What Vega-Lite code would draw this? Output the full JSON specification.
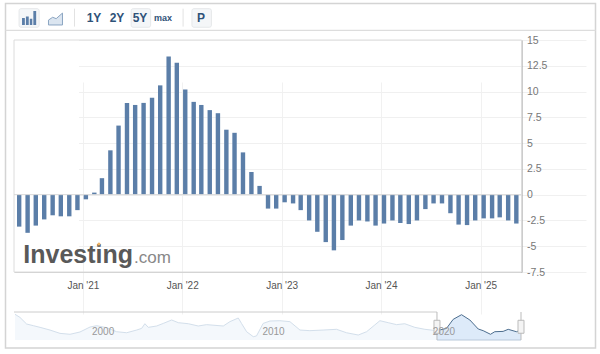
{
"$schema":"https://vega.github.io/schema/vega-lite/v6.json",
"width":600,"height":354,"padding":0,"autosize":{"type":"none"},"background":"white",
"config":{"view":{"stroke":null},"font":"Liberation Sans"},
"data":{"values":[{}]},
"datasets":{
"bars":[
{"date":"2020-05-12","v":-3.1},{"date":"2020-06-12","v":-3.7},{"date":"2020-07-12","v":-3.0},{"date":"2020-08-12","v":-2.4},{"date":"2020-09-12","v":-2.0},{"date":"2020-10-12","v":-2.1},{"date":"2020-11-12","v":-2.1},{"date":"2020-12-12","v":-1.5},
{"date":"2021-01-12","v":-0.45},{"date":"2021-02-12","v":0.2},{"date":"2021-03-12","v":1.6},{"date":"2021-04-12","v":4.3},{"date":"2021-05-12","v":6.7},{"date":"2021-06-12","v":8.9},{"date":"2021-07-12","v":8.7},{"date":"2021-08-12","v":8.9},{"date":"2021-09-12","v":9.4},{"date":"2021-10-12","v":10.6},{"date":"2021-11-12","v":13.4},{"date":"2021-12-12","v":12.8},
{"date":"2022-01-12","v":10.2},{"date":"2022-02-12","v":9.0},{"date":"2022-03-12","v":8.7},{"date":"2022-04-12","v":8.2},{"date":"2022-05-12","v":7.9},{"date":"2022-06-12","v":6.3},{"date":"2022-07-12","v":6.0},{"date":"2022-08-12","v":4.1},{"date":"2022-09-12","v":2.2},{"date":"2022-10-12","v":0.85},{"date":"2022-11-12","v":-1.35},{"date":"2022-12-12","v":-1.35},
{"date":"2023-01-12","v":-0.74},{"date":"2023-02-12","v":-0.85},{"date":"2023-03-12","v":-1.5},{"date":"2023-04-12","v":-2.5},{"date":"2023-05-12","v":-3.6},{"date":"2023-06-12","v":-4.6},{"date":"2023-07-12","v":-5.4},{"date":"2023-08-12","v":-4.4},{"date":"2023-09-12","v":-3.0},{"date":"2023-10-12","v":-2.5},{"date":"2023-11-12","v":-2.6},{"date":"2023-12-12","v":-3.0},
{"date":"2024-01-12","v":-2.8},{"date":"2024-02-12","v":-2.5},{"date":"2024-03-12","v":-2.75},{"date":"2024-04-12","v":-2.85},{"date":"2024-05-12","v":-2.5},{"date":"2024-06-12","v":-1.4},{"date":"2024-07-12","v":-0.85},{"date":"2024-08-12","v":-0.85},{"date":"2024-09-12","v":-1.8},{"date":"2024-10-12","v":-2.9},{"date":"2024-11-12","v":-2.95},{"date":"2024-12-12","v":-2.5},
{"date":"2025-01-12","v":-2.3},{"date":"2025-02-12","v":-2.3},{"date":"2025-03-12","v":-2.2},{"date":"2025-04-12","v":-2.5},{"date":"2025-05-12","v":-2.8}],
"history":[
{"year":1995.66,"v":13.8},{"year":1995.95,"v":10.8},{"year":1996.34,"v":4.4},{"year":1996.74,"v":2.8},{"year":1997.13,"v":1.2},{"year":1997.71,"v":-1.4},{"year":1998.3,"v":-4.6},{"year":1998.89,"v":-5.5},{"year":1999.47,"v":-3.3},{"year":2000.06,"v":1.5},{"year":2000.45,"v":2.8},{"year":2001.04,"v":0.9},{"year":2001.62,"v":-3},{"year":2002.21,"v":-4},{"year":2002.8,"v":-1.4},{"year":2003.09,"v":0.2},{"year":2003.28,"v":4.7},{"year":2003.48,"v":1.2},{"year":2003.97,"v":2.5},{"year":2004.36,"v":5},{"year":2004.85,"v":8.3},{"year":2005.24,"v":5.7},{"year":2005.83,"v":4.7},{"year":2006.41,"v":2.5},{"year":2006.9,"v":3.8},{"year":2007.88,"v":2.5},{"year":2008.27,"v":6.7},{"year":2008.76,"v":10.2},{"year":2008.95,"v":5},{"year":2009.25,"v":-3},{"year":2009.64,"v":-7.8},{"year":2009.83,"v":-7.1},{"year":2010.22,"v":5},{"year":2010.62,"v":7.3},{"year":2011.2,"v":7.6},{"year":2011.79,"v":6.7},{"year":2012.38,"v":-1.4},{"year":2012.96,"v":-2},{"year":2013.74,"v":-1.4},{"year":2014.53,"v":-0.7},{"year":2015.11,"v":-4},{"year":2015.8,"v":-6.2},{"year":2016.29,"v":-3},{"year":2016.77,"v":3.5},{"year":2017.07,"v":7.6},{"year":2017.56,"v":5.7},{"year":2018.05,"v":3.8},{"year":2018.53,"v":4.7},{"year":2019.12,"v":1.2},{"year":2019.71,"v":-0.7},{"year":2020.42,"v":-2}],
"selected":[
{"year":2020.42,"v":-2},{"year":2020.98,"v":0.2},{"year":2021.37,"v":8.9},{"year":2021.86,"v":13.4},{"year":2022.35,"v":8.3},{"year":2022.84,"v":-0.4},{"year":2023.13,"v":-2},{"year":2023.56,"v":-5.5},{"year":2023.81,"v":-3},{"year":2024.3,"v":-2.7},{"year":2024.6,"v":-0.7},{"year":2025.08,"v":-3},{"year":2025.35,"v":-1.4}],
"toolbar":[{"label":"1Y"},{"label":"2Y"},{"label":"5Y"},{"label":"max"},{"label":"P"}]
},
"resolve":{"scale":{"x":"independent","y":"independent"},"axis":{"x":"independent","y":"independent"}},
"layer":[
{
"layer":[
{"mark":{"type":"rect","fill":null,"stroke":"#d4d4d4","strokeWidth":1.5},
 "encoding":{"x":{"datum":0,"type":"quantitative","scale":{"domain":[0,100],"range":[5.5,595.5],"zero":false,"nice":false,"padding":0},"axis":null},"x2":{"datum":100},
 "y":{"datum":0,"type":"quantitative","scale":{"domain":[0,100],"range":[3.5,348],"zero":false,"nice":false},"axis":null},"y2":{"datum":100}}},
{"mark":{"type":"rule","stroke":"#dddddd","strokeWidth":1.2},
 "encoding":{"x":{"datum":0,"type":"quantitative"},"x2":{"datum":100},"y":{"datum":7.8,"type":"quantitative"}}},
{"mark":{"type":"rule","stroke":"#e2e2e2","strokeWidth":1},
 "encoding":{"x":{"datum":11.7,"type":"quantitative"},"y":{"datum":1.5,"type":"quantitative"},"y2":{"datum":6.7}}},
{"mark":{"type":"rule","stroke":"#e2e2e2","strokeWidth":1},
 "encoding":{"x":{"datum":30.1,"type":"quantitative"},"y":{"datum":1.5,"type":"quantitative"},"y2":{"datum":6.7}}},
{"mark":{"type":"rect","fill":"#f4f6f8","stroke":"#e6e8ea","cornerRadius":2},
 "encoding":{"x":{"datum":2.3,"type":"quantitative"},"x2":{"datum":5.7},"y":{"datum":1.5,"type":"quantitative"},"y2":{"datum":6.9}}},
{"mark":{"type":"rect","fill":"#f4f6f8","stroke":"#e6e8ea","cornerRadius":2},
 "encoding":{"x":{"datum":21.3,"type":"quantitative"},"x2":{"datum":24.6},"y":{"datum":1.5,"type":"quantitative"},"y2":{"datum":6.9}}},
{"mark":{"type":"rect","fill":"#f4f6f8","stroke":"#e6e8ea","cornerRadius":2},
 "encoding":{"x":{"datum":31.6,"type":"quantitative"},"x2":{"datum":34.9},"y":{"datum":1.5,"type":"quantitative"},"y2":{"datum":6.9}}},
{"mark":{"type":"point","filled":true,"fill":"#5b7ea8","opacity":1,"size":200,"shape":"M-1,1V0H-.6V1ZM-.45,1V-.2H-.05V1ZM.1,1V.1H.45V1ZM.6,1V-1H1V1Z"},
 "encoding":{"x":{"datum":4,"type":"quantitative"},"y":{"datum":4.2,"type":"quantitative"}}},
{"mark":{"type":"point","filled":true,"fill":"#dbe5f0","stroke":"#8ba5c2","strokeWidth":1,"opacity":1,"size":196,"shape":"M-1,1V.3L-.4,-.1L.1,.1L1,-.7V1Z"},
 "encoding":{"x":{"datum":8.47,"type":"quantitative"},"y":{"datum":4.2,"type":"quantitative"}}}
]},
{
"data":{"name":"toolbar"},
"layer":[
{"transform":[{"filter":"datum.label!=='P'&&datum.label!=='max'"}],
 "mark":{"type":"text","fontSize":12,"fontWeight":"bold","color":"#2f5278"},
 "encoding":{"x":{"field":"label","type":"nominal","scale":{"type":"point","domain":["1Y","2Y","5Y","max","gap","P"],"range":[94,209],"padding":0},"axis":null},
 "y":{"datum":"row","type":"nominal","scale":{"type":"point","domain":["row"],"range":[18,18]},"axis":null},"text":{"field":"label"}}},
{"transform":[{"filter":"datum.label==='max'"}],
 "mark":{"type":"text","fontSize":9,"fontWeight":"bold","color":"#2f5278"},
 "encoding":{"x":{"field":"label","type":"nominal"},"y":{"datum":"row","type":"nominal"},"text":{"field":"label"}}},
{"transform":[{"filter":"datum.label==='P'"}],
 "mark":{"type":"text","fontSize":12,"fontWeight":"bold","color":"#2f5278","dx":-8},
 "encoding":{"x":{"field":"label","type":"nominal"},"y":{"datum":"row","type":"nominal"},"text":{"field":"label"}}}
]},
{
"layer":[
{"mark":{"type":"rect","fill":null,"stroke":"#dcdcdc","strokeWidth":1},
 "encoding":{"x":{"datum":{"year":2020,"month":4,"date":23},"type":"temporal","scale":{"domain":[{"year":2020,"month":4,"date":23},{"year":2025,"month":5,"date":31}],"range":[14,521.5],"padding":0},"axis":{"orient":"bottom","offset":-82,"values":[{"year":2021,"month":1,"date":1},{"year":2022,"month":1,"date":1},{"year":2023,"month":1,"date":1},{"year":2024,"month":1,"date":1},{"year":2025,"month":1,"date":1}],"labelExpr":"timeFormat(datum.value,\"%b '%y\")","title":null,"grid":true,"gridColor":"#f1f1f1","domain":true,"domainColor":"#cccccc","ticks":false,"labelPadding":8,"labelFontSize":10,"labelColor":"#555555","labelFont":"Liberation Sans"}},"x2":{"datum":{"year":2025,"month":5,"date":31}},
 "y":{"datum":15,"type":"quantitative","scale":{"domain":[-7.5,15],"range":[272,40],"zero":false,"nice":false},"axis":{"orient":"right","offset":-78.5,"values":[-7.5,-5,-2.5,0,2.5,5,7.5,10,12.5,15],"tickCount":20,"labelExpr":"''+datum.value","labelOverlap":false,"labelBound":false,"labelFlush":false,"title":null,"grid":true,"gridColor":"#f0f0f0","domain":true,"domainColor":"#999999","ticks":false,"labelPadding":5,"labelFontSize":10.5,"labelColor":"#777777","labelFont":"Liberation Sans"}},"y2":{"datum":-7.5}}},
{"data":{"name":"bars"},
 "mark":{"type":"bar","color":"#5b7ea8","size":4.4},
 "encoding":{"x":{"field":"date","type":"temporal"},
 "y":{"field":"v","type":"quantitative"}}},
{"mark":{"type":"rule","stroke":"#d8d8d8","strokeWidth":1},
 "encoding":{"x":{"datum":{"year":2020,"month":4,"date":23},"type":"temporal"},"x2":{"datum":{"year":2025,"month":5,"date":31}},"y":{"datum":0,"type":"quantitative"}}},
{"mark":{"type":"text","text":"Investing","align":"left","baseline":"alphabetic","fontSize":25,"fontWeight":"bold","color":"#595959"},
 "encoding":{"x":{"datum":{"year":2020,"month":5,"date":27},"type":"temporal"},"y":{"datum":-6.62,"type":"quantitative"}}},
{"mark":{"type":"text","text":".com","align":"left","baseline":"alphabetic","fontSize":17,"color":"#888888"},
 "encoding":{"x":{"datum":{"year":2021,"month":7,"date":8},"type":"temporal"},"y":{"datum":-6.62,"type":"quantitative"}}},
{"mark":{"type":"point","filled":true,"fill":"#eeb566","opacity":1,"size":9},
 "encoding":{"x":{"datum":{"year":2021,"month":3,"date":1},"type":"temporal"},"y":{"datum":-4.78,"type":"quantitative"}}}
]},
{
"layer":[
{"data":{"name":"history"},"mark":{"type":"area","color":"#f0f5fb","line":{"stroke":"#d3dfeb","strokeWidth":1}},
 "encoding":{"x":{"field":"year","type":"quantitative","scale":{"domain":[1995.6,2025.35],"range":[14,521],"zero":false,"nice":false,"padding":0},"axis":null},
 "y":{"field":"v","type":"quantitative","scale":{"domain":[-11,16],"range":[340,312],"zero":false,"nice":false},"axis":null},"y2":{"datum":-11}}},
{"data":{"name":"selected"},"mark":{"type":"area","color":"#cfe1f6","line":{"stroke":"#4c6d8e","strokeWidth":1}},
 "encoding":{"x":{"field":"year","type":"quantitative"},"y":{"field":"v","type":"quantitative"},"y2":{"datum":-11}}},
{"mark":{"type":"rule","stroke":"#cccccc","strokeWidth":1},
 "encoding":{"x":{"datum":1995.6,"type":"quantitative"},"x2":{"datum":2020.42},"y":{"datum":16,"type":"quantitative"}}},
{"mark":{"type":"rule","stroke":"#b9c9da","strokeWidth":1},
 "encoding":{"x":{"datum":2020.42,"type":"quantitative"},"x2":{"datum":2025.35},"y":{"datum":-11,"type":"quantitative"}}},
{"mark":{"type":"rule","stroke":"#bbbbbb","strokeWidth":1},
 "encoding":{"x":{"datum":2020.42,"type":"quantitative"},"y":{"datum":16,"type":"quantitative"},"y2":{"datum":-11}}},
{"mark":{"type":"rule","stroke":"#bbbbbb","strokeWidth":1},
 "encoding":{"x":{"datum":2025.35,"type":"quantitative"},"y":{"datum":16,"type":"quantitative"},"y2":{"datum":-11}}},
{"mark":{"type":"bar","fill":"#f4f4f4","stroke":"#bbbbbb","size":6},
 "encoding":{"x":{"datum":2020.42,"type":"quantitative"},"y":{"datum":8,"type":"quantitative"},"y2":{"datum":-4.5}}},
{"mark":{"type":"bar","fill":"#f4f4f4","stroke":"#bbbbbb","size":6},
 "encoding":{"x":{"datum":2025.35,"type":"quantitative"},"y":{"datum":8,"type":"quantitative"},"y2":{"datum":-4.5}}},
{"data":{"values":[{"year":2000,"label":"2000"},{"year":2010,"label":"2010"},{"year":2020,"label":"2020"}]},
 "mark":{"type":"text","align":"left","dx":3,"fontSize":10,"color":"#999999"},
 "encoding":{"x":{"field":"year","type":"quantitative"},"y":{"datum":-3.6,"type":"quantitative"},"text":{"field":"label"}}}
]}
]
}
